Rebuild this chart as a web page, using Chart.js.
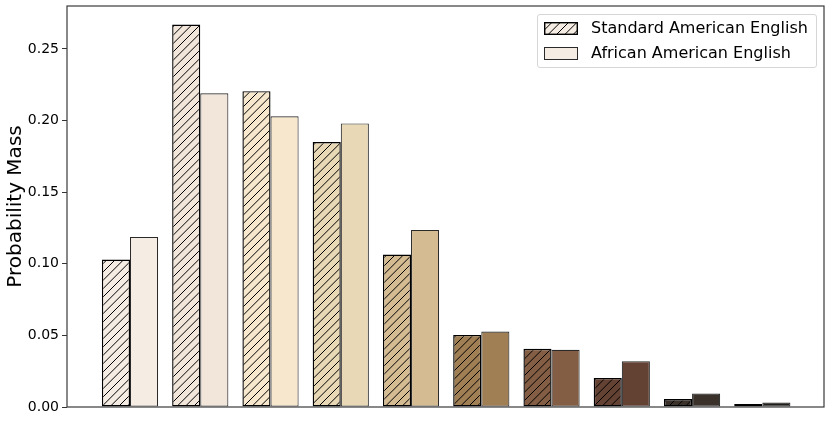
<!DOCTYPE html>
<html>
<head>
<meta charset="utf-8">
<script src="https://cdn.jsdelivr.net/npm/chart.js@4/dist/chart.umd.min.js"></script>
<style>
  html, body { margin: 0; padding: 0; background: #fff; }
  #wrap { position: relative; width: 831px; height: 422px; }
  #legend {
    position: absolute; left: 537px; top: 14px; width: 278px; height: 52px;
    border: 1px solid #d6d6d6; border-radius: 3px; background: rgba(255,255,255,0.85);
    font-family: "DejaVu Sans", sans-serif; font-size: 16px; color: #000;
  }
  .item { position: absolute; left: 6px; height: 14px; display: flex; align-items: center; white-space: nowrap; }
  .item canvas { width: 34px; height: 13px; display: block; }
  .item span { margin-left: 13px; line-height: 14px; }
</style>
</head>
<body>
<div id="wrap">
  <canvas id="chart" width="831" height="422"></canvas>
  <div id="legend">
    <div class="item" style="top:6px"><canvas id="sw0" width="34" height="13"></canvas><span id="lab0"></span></div>
    <div class="item" style="top:31px"><canvas id="sw1" width="34" height="13"></canvas><span id="lab1"></span></div>
  </div>
</div>
<script>
const categories = ['1', '2', '3', '4', '5', '6', '7', '8', '9', '10'];
const seriesNames = ['Standard American English', 'African American English'];
const saeValues = [0.103, 0.267, 0.2205, 0.185, 0.1065, 0.0503, 0.0406, 0.0203, 0.0056, 0.0021];
const aaeValues = [0.1187, 0.219, 0.203, 0.198, 0.1236, 0.0527, 0.0399, 0.032, 0.0094, 0.0031];
const groupColors = ['#f5ece3', '#f2e5da', '#f7e8cd', '#e8d8b5', '#d4bb92', '#a17f55', '#835e44', '#634234', '#3b312b', '#1f1c1a'];
const yTicks = [0, 0.05, 0.10, 0.15, 0.20, 0.25];

Chart.defaults.font.family = '"DejaVu Sans", sans-serif';
Chart.defaults.color = '#000';

function hatchTile(color) {
  const s = 25, step = 25 / 3;
  const c = document.createElement('canvas');
  c.width = s; c.height = s;
  const g = c.getContext('2d');
  g.fillStyle = color; g.fillRect(0, 0, s, s);
  g.strokeStyle = '#000'; g.lineWidth = 1;
  g.beginPath();
  for (let k = 0; k <= 6; k++) {
    const cc = k * step;
    g.moveTo(cc + 2, -2); g.lineTo(-2, cc + 2);
  }
  g.stroke();
  return c;
}
function hatchPattern(ctx, color) {
  return ctx.createPattern(hatchTile(color), 'repeat');
}

const canvas = document.getElementById('chart');
const ctx = canvas.getContext('2d');

const framePlugin = {
  id: 'frame',
  afterDatasetsDraw(chart) {
    const a = chart.chartArea, c = chart.ctx;
    c.save();
    c.strokeStyle = '#3a3a3a';
    c.lineWidth = 1.2;
    c.strokeRect(a.left, a.top, a.right - a.left, a.bottom - a.top);
    c.restore();
  }
};

new Chart(ctx, {
  type: 'bar',
  data: {
    labels: categories,
    datasets: [
      {
        label: seriesNames[0],
        data: saeValues.map((v, i) => ({ x: i, y: v })),
        backgroundColor: groupColors.map(c => hatchPattern(ctx, c)),
        borderColor: '#000',
        borderWidth: 1.4,
        borderSkipped: false
      },
      {
        label: seriesNames[1],
        data: aaeValues.map((v, i) => ({ x: i, y: v })),
        backgroundColor: groupColors,
        borderColor: '#2a2a2a',
        borderWidth: 1.1,
        borderSkipped: false
      }
    ]
  },
  options: {
    responsive: false,
    animation: false,
    datasets: { bar: { categoryPercentage: 0.8, barPercentage: 1.0 } },
    layout: { padding: { left: 0, top: 6, right: 7, bottom: 15 } },
    plugins: {
      legend: { display: false },
      tooltip: { enabled: false }
    },
    scales: {
      x: {
        type: 'linear',
        display: false,
        offset: false,
        min: -0.8967,
        max: 9.878,
        grid: { display: false }
      },
      y: {
        min: 0,
        max: 0.28,
        afterFit(s) { s.width = 67; s.paddingTop = 0; s.paddingBottom = 0; },
        afterBuildTicks(s) { s.ticks = yTicks.map(v => ({ value: v })); },
        ticks: {
          stepSize: 0.05,
          includeBounds: false,
          padding: 3,
          font: { size: 14 },
          color: '#000',
          callback: v => Number(v).toFixed(2)
        },
        grid: { display: true, drawOnChartArea: false, drawTicks: true, tickLength: 5, color: '#333', lineWidth: 1 },
        border: { display: false },
        title: {
          display: true,
          text: 'Probability Mass',
          font: { size: 20 },
          color: '#000',
          padding: { top: 4, bottom: 1 }
        }
      }
    }
  },
  plugins: [framePlugin]
});

// Legend (HTML, real text)
document.getElementById('lab0').textContent = seriesNames[0];
document.getElementById('lab1').textContent = seriesNames[1];
(function () {
  const s0 = document.getElementById('sw0').getContext('2d');
  s0.fillStyle = s0.createPattern(hatchTile(groupColors[0]), 'repeat');
  s0.fillRect(0, 0, 34, 13);
  s0.strokeStyle = '#000'; s0.lineWidth = 1.4;
  s0.strokeRect(0.7, 0.7, 32.6, 11.6);
  const s1 = document.getElementById('sw1').getContext('2d');
  s1.fillStyle = groupColors[0];
  s1.fillRect(0, 0, 34, 13);
  s1.strokeStyle = '#2a2a2a'; s1.lineWidth = 1;
  s1.strokeRect(0.5, 0.5, 33, 12);
})();
</script>
</body>
</html>
